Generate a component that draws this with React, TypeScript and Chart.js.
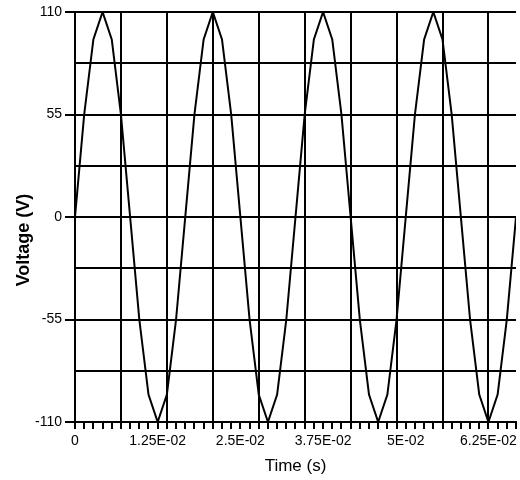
import React, { useEffect, useRef } from "react";
import { Chart, registerables } from "chart.js";

Chart.register(...registerables);

// Sample times (s), one sample every 1/720 s
const times = [
  0, 0.001389, 0.002778, 0.004167, 0.005556, 0.006944, 0.008333, 0.009722,
  0.011111, 0.0125, 0.013889, 0.015278, 0.016667, 0.018056, 0.019444, 0.020833,
  0.022222, 0.023611, 0.025, 0.026389, 0.027778, 0.029167, 0.030556, 0.031944,
  0.033333, 0.034722, 0.036111, 0.0375, 0.038889, 0.040278, 0.041667, 0.043056,
  0.044444, 0.045833, 0.047222, 0.048611, 0.05, 0.051389, 0.052778, 0.054167,
  0.055556, 0.056944, 0.058333, 0.059722, 0.061111, 0.0625, 0.063889, 0.065278,
  0.066667,
];

// Voltage samples (V)
const voltage = [
  0, 55, 95.3, 110, 95.3, 55, 0, -55, -95.3, -110, -95.3, -55,
  0, 55, 95.3, 110, 95.3, 55, 0, -55, -95.3, -110, -95.3, -55,
  0, 55, 95.3, 110, 95.3, 55, 0, -55, -95.3, -110, -95.3, -55,
  0, 55, 95.3, 110, 95.3, 55, 0, -55, -95.3, -110, -95.3, -55,
  0,
];

const xTickLabels = ["0", "1.25E-02", "2.5E-02", "3.75E-02", "5E-02", "6.25E-02"];
const yGridValues = [-110, -82.5, -55, -27.5, 0, 27.5, 55, 82.5, 110];
const yTickLabels = ["-110", "-55", "0", "55", "110"];

const xTitle = "Time (s)";
const yTitle = "Voltage (V)";

const yTitlePlugin = {
  id: "yTitle",
  afterDraw(chart: any) {
    const ctx = chart.ctx;
    ctx.save();
    ctx.translate(24, chart.height / 2);
    ctx.rotate(-Math.PI / 2);
    ctx.font = "bold 18px 'Liberation Sans', Arial, sans-serif";
    ctx.fillStyle = "#000";
    ctx.textAlign = "center";
    ctx.textBaseline = "middle";
    ctx.fillText(yTitle, 0, 0);
    ctx.restore();
  },
};

export default function App() {
  const ref = useRef<HTMLCanvasElement | null>(null);

  useEffect(() => {
    if (!ref.current) return;
    const chart = new Chart(ref.current, {
      type: "line",
      data: {
        datasets: [
          {
            data: times.map((t, i) => ({ x: t, y: voltage[i] })),
            borderColor: "#000",
            borderWidth: 2,
            pointRadius: 0,
            tension: 0,
            fill: false,
          },
        ],
      },
      options: {
        animation: false,
        responsive: true,
        maintainAspectRatio: false,
        layout: { padding: { top: 12, right: 3, left: 0, bottom: 0 } },
        plugins: { legend: { display: false }, tooltip: { enabled: false } },
        scales: {
          x: {
            type: "linear",
            min: 0,
            max: times[times.length - 1],
            afterBuildTicks: (scale: any) => {
              scale.ticks = times.map((v) => ({ value: v }));
            },
            afterFit: (scale: any) => {
              scale.height = 58;
            },
            grid: {
              color: (c: any) => (c.index % 5 === 0 ? "#000" : "rgba(0,0,0,0)"),
              tickColor: "#000",
              lineWidth: 2,
              tickWidth: 2,
              tickLength: 7,
            },
            border: { display: true, color: "#000", width: 2 },
            ticks: {
              autoSkip: false,
              maxRotation: 0,
              minRotation: 0,
              padding: 4,
              color: "#000",
              font: { family: "'Liberation Sans', Arial, sans-serif", size: 14 },
              callback: (_v: any, i: number) => (i % 9 === 0 ? xTickLabels[i / 9] : ""),
            },
            title: {
              display: true,
              text: xTitle,
              color: "#000",
              font: { family: "'Liberation Sans', Arial, sans-serif", size: 17 },
              padding: { top: 0, bottom: 3 },
            },
          },
          y: {
            type: "linear",
            min: -110,
            max: 110,
            afterBuildTicks: (scale: any) => {
              scale.ticks = yGridValues.map((v) => ({ value: v }));
            },
            afterFit: (scale: any) => {
              scale.width = 75;
            },
            grid: {
              color: "#000",
              tickColor: (c: any) => (c.index % 2 === 0 ? "#000" : "rgba(0,0,0,0)"),
              lineWidth: 2,
              tickWidth: 2,
              tickLength: 10,
            },
            border: { display: true, color: "#000", width: 2 },
            ticks: {
              autoSkip: false,
              padding: 3,
              color: "#000",
              font: { family: "'Liberation Sans', Arial, sans-serif", size: 14 },
              callback: (_v: any, i: number) => (i % 2 === 0 ? yTickLabels[i / 2] : ""),
            },
          },
        },
      },
      plugins: [yTitlePlugin],
    });
    return () => chart.destroy();
  }, []);

  return (
    <div style={{ position: "fixed", left: 0, top: 0, width: 520, height: 480, background: "#fff" }}>
      <canvas ref={ref} />
    </div>
  );
}
